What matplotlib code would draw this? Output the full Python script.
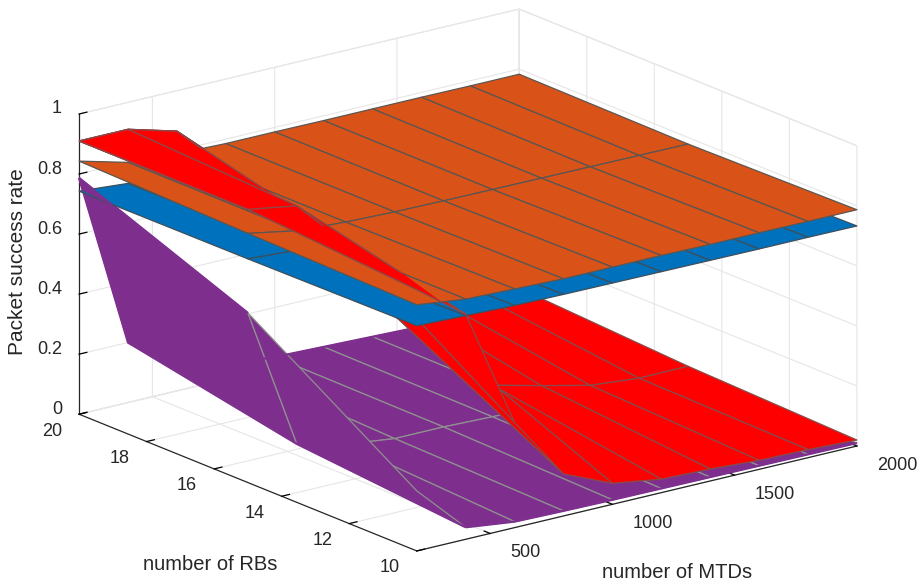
import matplotlib
matplotlib.use('Agg')
import matplotlib.pyplot as plt
import numpy as np
from mpl_toolkits.mplot3d import proj3d
from mpl_toolkits.mplot3d.art3d import Poly3DCollection, Line3DCollection

plt.rcParams['font.family'] = ['Liberation Sans', 'DejaVu Sans']

mtds = [200, 400, 600, 800, 1000, 1200, 1400, 1600, 1800, 2000]
rbs = [10, 15, 20]

# rows are rbs, columns are mtds
orange_z = [[.82, .80, .795, .79, .79, .79, .788, .788, .787, .787],
            [.83, .80, .79, .785, .783, .782, .781, .78, .779, .778],
            [.843, .80, .79, .785, .785, .784, .784, .784, .783, .783]]
blue_z = [[.75, .745, .74, .738, .737, .736, .735, .734, .734, .733],
          [.745, .735, .73, .728, .727, .726, .725, .725, .724, .724],
          [.743, .73, .725, .722, .72, .72, .72, .72, .72, .72]]
red_z = [[.87, .75, .35, .14, .07, .045, .04, .03, .027, .02],
         [.91, .883, .72, .44, .31, .13, .09, .052, .037, .038],
         [.91, .91, .865, .71, .5, .3, .2, .14, .1, .07]]
purple_z = [[.2, .04, .02, .017, .015, .014, .013, .012, .011, .01],
            [.565, .09, .05, .03, .03, .025, .022, .02, .018, .015],
            [.787, .2, .08, .05, .035, .03, .025, .02, .015, .012]]

x_ticks = [500, 1000, 1500, 2000]
y_ticks = [10, 12, 14, 16, 18, 20]
z_ticks = [0, 0.2, 0.4, 0.6, 0.8, 1]
z_labels = ['0', '0.2', '0.4', '0.6', '0.8', '1']

orange = '#D95319'
blue = '#0072BD'
red = '#FF0000'
purple = '#7E2F8E'
grid_col = '#e6e6e6'
text_col = '#262626'


def cut_poly(pts, d):
    # keep the part of a polygon where d >= 0
    out = []
    for i in range(len(pts)):
        j = (i + 1) % len(pts)
        if d[i] >= 0:
            out.append(pts[i])
        if (d[i] >= 0) != (d[j] >= 0):
            t = d[i] / (d[i] - d[j])
            out.append(pts[i] + t * (pts[j] - pts[i]))
    return out


def draw_above(ax, Z, base, col, edge, zo):
    # bit of surface Z that is above the surface base, painted on top of it
    polys = []
    segs = []
    D = Z - base
    for r in range(len(rbs)):
        for c in range(len(mtds)):
            here = np.array([mtds[c], rbs[r], Z[r, c]], dtype=float)
            if c + 1 < len(mtds):
                nxt = np.array([mtds[c + 1], rbs[r], Z[r, c + 1]], dtype=float)
                s = cut_poly([here, nxt], [D[r, c], D[r, c + 1]])
                if len(s) >= 2:
                    segs.append(s[:2])
            if r + 1 < len(rbs):
                nxt = np.array([mtds[c], rbs[r + 1], Z[r + 1, c]], dtype=float)
                s = cut_poly([here, nxt], [D[r, c], D[r + 1, c]])
                if len(s) >= 2:
                    segs.append(s[:2])
            if r + 1 < len(rbs) and c + 1 < len(mtds):
                idx = [(r, c), (r, c + 1), (r + 1, c + 1), (r + 1, c)]
                pts = [np.array([mtds[b], rbs[a], Z[a, b]], dtype=float) for a, b in idx]
                p = cut_poly(pts, [D[a, b] for a, b in idx])
                if len(p) >= 3:
                    polys.append(p)
    pc = Poly3DCollection(polys, facecolors=col, edgecolors=col, linewidths=0.3, zorder=zo)
    ax.add_collection3d(pc, autolim=False)
    lc = Line3DCollection(segs, colors=edge, linewidths=1.0, zorder=zo + 0.5)
    ax.add_collection3d(lc, autolim=False)


fig = plt.figure(figsize=(9.19, 5.86), dpi=100)
ax = fig.add_axes([46.4 / 919, -115.6 / 586, 821 / 919, 821 / 586], projection='3d', computed_zorder=False)
ax.set_proj_type('ortho')
ax.view_init(elev=18.1, azim=-127.5)
ax.set_box_aspect((555, 555, 316))
ax.patch.set_alpha(0)

X, Y = np.meshgrid(mtds, rbs)
O = np.array(orange_z)
B = np.array(blue_z)
R = np.array(red_z)
P = np.array(purple_z)


def surf(Z, col, edge, zo):
    ax.plot_surface(X, Y, Z, rstride=1, cstride=1, color=col, edgecolor=edge,
                    linewidth=0.9, shade=False, antialiased=True, zorder=zo)


surf(P, purple, '#8f8f8f', 2)
# the outline of the purple sheet has no visible edge line
outline = [list(zip(X[2], Y[2], P[2])),
           list(zip(X[0][1:], Y[0][1:], P[0][1:])),
           list(zip(X[:, 1], Y[:, 1], P[:, 1])),
           list(zip(X[1:, 0], Y[1:, 0], P[1:, 0]))]
ax.add_collection3d(Line3DCollection(outline, colors=purple, linewidths=1.6, zorder=2.5), autolim=False)
surf(R, red, '#8a4a4a', 3)
surf(B, blue, '#3d4f5c', 4)
draw_above(ax, P, B, purple, purple, 5)
draw_above(ax, R, B, red, '#8a4a4a', 6)
surf(O, orange, '#5c5550', 7)
draw_above(ax, R, O, red, '#8a4a4a', 8)

ax.set_xlim(200, 2000, view_margin=0)
ax.set_ylim(10, 20, view_margin=0)
ax.set_zlim(0, 1, view_margin=0)
ax.set_xticks(x_ticks)
ax.set_yticks(y_ticks)
ax.set_zticks(z_ticks)
ax.set_xticklabels([])
ax.set_yticklabels([])
ax.set_zticklabels([])

for axis in (ax.xaxis, ax.yaxis, ax.zaxis):
    axis.set_pane_color((1, 1, 1, 1))
    axis.pane.set_edgecolor(grid_col)
    axis.pane.set_linewidth(0.8)
    axis.line.set_color(text_col)
    axis.line.set_linewidth(0.9)
    axis._axinfo['grid'].update(color=grid_col, linewidth=0.8)
    axis._axinfo['tick'].update(inward_factor=0.0, outward_factor=0.22)
    axis._axinfo['tick']['linewidth'] = {True: 0.9, False: 0.9}
    axis._axinfo['tick']['color'] = text_col
ax.grid(True)

# tick labels sit at a fixed pixel offset from the axis corner positions
M = ax.get_proj()


def tick_text(label, x, y, z, dx, dy, ha):
    px, py, _ = proj3d.proj_transform(x, y, z, M)
    ax.annotate(label, (px, py), xytext=(dx, dy), textcoords='offset pixels', ha=ha, va='center',
                fontsize=13, color=text_col, annotation_clip=False)


for v in x_ticks:
    tick_text(str(v), v, 10, 0, 20, -19, 'left')
for v in y_ticks:
    tick_text(str(v), 200, v, 0, -27, -17, 'center')
for v, s in zip(z_ticks, z_labels):
    tick_text(s, 200, 20, v, -17, 5, 'right')

fig.text(143 / 919, 1 - 565 / 586, 'number of RBs', fontsize=14.5, color=text_col, va='center')
fig.text(602 / 919, 1 - 573 / 586, 'number of MTDs', fontsize=14.5, color=text_col, va='center')
fig.text(18 / 919, 1 - 262 / 586, 'Packet success rate', fontsize=15, color=text_col,
         rotation=90, va='center', ha='center')

fig.savefig('out.png', dpi=100)
